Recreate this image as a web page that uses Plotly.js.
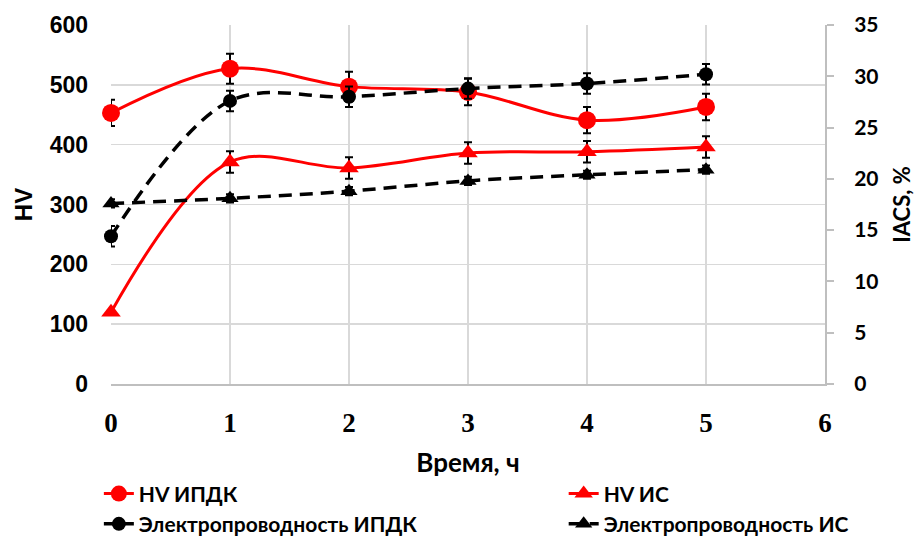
<!DOCTYPE html>
<html>
<head>
<meta charset="utf-8">
<script src="https://cdn.plot.ly/plotly-3.0.1.min.js"></script>
<style>html,body{margin:0;padding:0;background:#fff;}#chart{width:915px;height:536px;}</style>
</head>
<body>
<div id="chart"></div>
<script>
const time = [0, 1, 2, 3, 4, 5];
const hvIPDK = [453, 527, 497, 488, 441, 463];
const hvIPDKErr = [22, 25, 25, 22, 22, 22];
const hvIS = [120, 371, 361, 386, 388, 396];
const hvISErr = [0, 18, 18, 18, 18, 18];
const condIPDK = [14.4, 27.6, 28.0, 28.8, 29.3, 30.2];
const condIPDKErr = [1.0, 1.0, 1.0, 1.0, 1.0, 1.0];
const condIS = [17.6, 18.1, 18.8, 19.8, 20.4, 20.9];
const condISErr = [0.4, 0.4, 0.4, 0.4, 0.4, 0.4];
const names = ['HV ИПДК', 'HV ИС', 'Электропроводность ИПДК', 'Электропроводность ИС'];

const errStyle = (arr) => ({type: 'data', array: arr, visible: true, color: '#000', thickness: 2, width: 4});

const traces = [
  {x: time, y: condIPDK, name: names[2], type: 'scatter', mode: 'lines+markers', yaxis: 'y2', cliponaxis: false,
   line: {color: '#000000', width: 3.5, dash: '13px,8px', shape: 'spline', smoothing: 1},
   marker: {symbol: 'circle', size: 14, color: '#000000'},
   error_y: errStyle(condIPDKErr), legend: 'legend', legendgroup: 'g3', legendrank: 2},
  {x: time, y: condIS, name: names[3], type: 'scatter', mode: 'lines+markers', yaxis: 'y2', cliponaxis: false,
   line: {color: '#000000', width: 3.5, dash: '13px,8px', shape: 'spline', smoothing: 1},
   marker: {symbol: 'triangle-up', size: 15, color: '#000000'},
   error_y: errStyle(condISErr), legend: 'legend2', legendgroup: 'g4', legendrank: 2},
  {x: time, y: hvIPDK, name: names[0], type: 'scatter', mode: 'lines+markers', yaxis: 'y', cliponaxis: false,
   line: {color: '#ff0000', width: 3, shape: 'spline', smoothing: 1},
   marker: {symbol: 'circle', size: 18, color: '#ff0000'},
   error_y: errStyle(hvIPDKErr), legend: 'legend', legendgroup: 'g1', legendrank: 1},
  {x: time, y: hvIS, name: names[1], type: 'scatter', mode: 'lines+markers', yaxis: 'y', cliponaxis: false,
   line: {color: '#ff0000', width: 3, shape: 'spline', smoothing: 1},
   marker: {symbol: 'triangle-up', size: 17, color: '#ff0000'},
   error_y: errStyle(hvISErr), legend: 'legend2', legendgroup: 'g2', legendrank: 1}
];

const legendFont = {family: 'Lato', size: 21, color: '#000', weight: 'bold'};

const layout = {
  width: 915, height: 536,
  margin: {l: 111, r: 90, t: 25, b: 152, autoexpand: false},
  paper_bgcolor: '#fff', plot_bgcolor: '#fff',
  showlegend: true,
  xaxis: {
    range: [0, 6], dtick: 1, tick0: 0, showgrid: true, gridcolor: '#d9d9d9', gridwidth: 1.5,
    showline: true, linecolor: '#bfbfbf', linewidth: 2, zeroline: false,
    ticks: '', ticklabelstandoff: 14,
    tickfont: {family: 'Liberation Serif', size: 27, color: '#000', weight: 'bold'},
    title: {text: 'Время, ч', font: {family: 'Lato', size: 26, color: '#000', weight: 'bold'}, standoff: 16}
  },
  yaxis: {
    range: [0, 600], dtick: 100, tick0: 0, showgrid: true, gridcolor: '#d9d9d9', gridwidth: 1.5,
    zeroline: false, showline: false,
    ticks: '', ticklabelstandoff: 22,
    tickfont: {family: 'Liberation Sans', size: 23, color: '#000', weight: 'bold'},
    title: {text: 'HV', font: {family: 'Liberation Sans', size: 24, color: '#000', weight: 'bold'}, standoff: 10}
  },
  yaxis2: {
    range: [0, 35], dtick: 5, tick0: 0, overlaying: 'y', side: 'right', showgrid: false,
    zeroline: false, showline: true, linecolor: '#bfbfbf', linewidth: 2,
    ticks: 'outside', ticklen: 7, tickcolor: '#bfbfbf', tickwidth: 2, ticklabelstandoff: 16,
    tickfont: {family: 'Lato', size: 21, color: '#000', weight: 'bold'},
    title: {text: 'IACS, %', font: {family: 'Lato', size: 22, color: '#000', weight: 'bold'}, standoff: 17}
  },
  legend: {
    orientation: 'v', x: -0.017, xanchor: 'left', y: -0.249, yanchor: 'top',
    traceorder: 'normal', tracegroupgap: 3, font: legendFont, bgcolor: 'rgba(0,0,0,0)'
  },
  legend2: {
    orientation: 'v', x: 0.634, xanchor: 'left', y: -0.249, yanchor: 'top',
    traceorder: 'normal', tracegroupgap: 3, font: legendFont, bgcolor: 'rgba(0,0,0,0)'
  }
};

Plotly.newPlot('chart', traces, layout, {displayModeBar: false, staticPlot: true});
</script>
</body>
</html>
